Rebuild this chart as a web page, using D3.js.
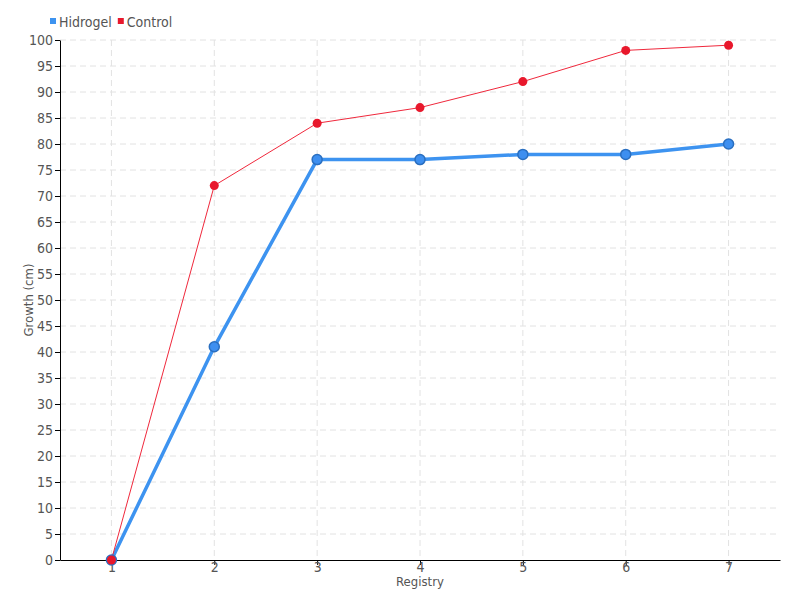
<!DOCTYPE html>
<html>
<head>
<meta charset="utf-8">
<script src="https://cdn.jsdelivr.net/npm/d3@7"></script>
<style>
  body { margin: 0; background: #fff; }
  text { font-family: "DejaVu Sans Condensed", "DejaVu Sans", sans-serif; font-stretch: condensed; fill: #555; }
  .grid line { stroke: #e2e2e2; stroke-dasharray: 6,4; }
  .axis path, .axis line { stroke: #000; }
</style>
</head>
<body>
<script>
const registry = [1, 2, 3, 4, 5, 6, 7]
const hidrogel = [0, 41, 77, 77, 78, 78, 80]
const control = [0, 72, 84, 87, 92, 98, 99]
const yTicks = d3.range(0, 101, 5)

const width = 800
const height = 600
const margin = { top: 40, right: 20, bottom: 40, left: 60 }

const svg = d3.select("body").append("svg")
  .attr("width", width)
  .attr("height", height)

const x = d3.scalePoint()
  .domain(registry)
  .range([margin.left, width - margin.right])
  .padding(0.5)

const y = d3.scaleLinear()
  .domain([0, 100])
  .range([height - margin.bottom, margin.top])

// grid
const grid = svg.append("g").attr("class", "grid")
grid.selectAll("line.h")
  .data(yTicks.filter(d => d > 0))
  .enter().append("line")
    .attr("class", "h")
    .attr("x1", margin.left).attr("x2", width - margin.right)
    .attr("y1", d => y(d)).attr("y2", d => y(d))
grid.selectAll("line.v")
  .data(registry)
  .enter().append("line")
    .attr("class", "v")
    .attr("x1", d => x(d)).attr("x2", d => x(d))
    .attr("y1", margin.top).attr("y2", height - margin.bottom)

// axes
svg.append("g")
    .attr("class", "axis")
    .attr("transform", `translate(0,${height - margin.bottom})`)
    .call(d3.axisBottom(x).tickSize(5).tickPadding(-3).tickSizeOuter(0))
    .call(g => g.selectAll("text").attr("font-size", 14))

svg.append("g")
    .attr("class", "axis")
    .attr("transform", `translate(${margin.left},0)`)
    .call(d3.axisLeft(y).tickValues(yTicks).tickSize(5).tickPadding(2).tickSizeOuter(0))
    .call(g => g.selectAll("text").attr("font-size", 14))

svg.append("text")
  .attr("x", (margin.left + width - margin.right) / 2)
  .attr("y", 586)
  .attr("text-anchor", "middle")
  .attr("font-size", 13)
  .text("Registry")

svg.append("text")
  .attr("transform", `translate(33,${(margin.top + height - margin.bottom) / 2}) rotate(-90)`)
  .attr("text-anchor", "middle")
  .attr("font-size", 13)
  .text("Growth (cm)")

// lines
const line = d3.line()
  .x((d, i) => x(registry[i]))
  .y(d => y(d))

svg.append("path")
  .datum(hidrogel)
  .attr("fill", "none")
  .attr("stroke", "#3d93f0")
  .attr("stroke-width", 3.5)
  .attr("d", line)

svg.append("path")
  .datum(control)
  .attr("fill", "none")
  .attr("stroke", "#f0283c")
  .attr("stroke-width", 1)
  .attr("d", line)

svg.append("g").selectAll("circle")
  .data(hidrogel)
  .enter().append("circle")
    .attr("cx", (d, i) => x(registry[i]))
    .attr("cy", d => y(d))
    .attr("r", 5)
    .attr("fill", "#3d8ff0")
    .attr("stroke", "#2a6fc0")
    .attr("stroke-width", 1.5)

svg.append("g").selectAll("circle")
  .data(control)
  .enter().append("circle")
    .attr("cx", (d, i) => x(registry[i]))
    .attr("cy", d => y(d))
    .attr("r", 4.5)
    .attr("fill", "#e8182c")

// legend
const legendData = [
  { name: "Hidrogel", color: "#3d93f0" },
  { name: "Control", color: "#e8182c" },
]
const legend = svg.append("g").attr("transform", "translate(50,22)")
let lx = 0
legendData.forEach(d => {
  legend.append("rect")
    .attr("x", lx).attr("y", -4)
    .attr("width", 6).attr("height", 6)
    .attr("fill", d.color)
  const t = legend.append("text")
    .attr("x", lx + 9).attr("y", 5)
    .attr("font-size", 14)
    .text(d.name)
  lx += 9 + t.node().getComputedTextLength() + 6
})
</script>
</body>
</html>
